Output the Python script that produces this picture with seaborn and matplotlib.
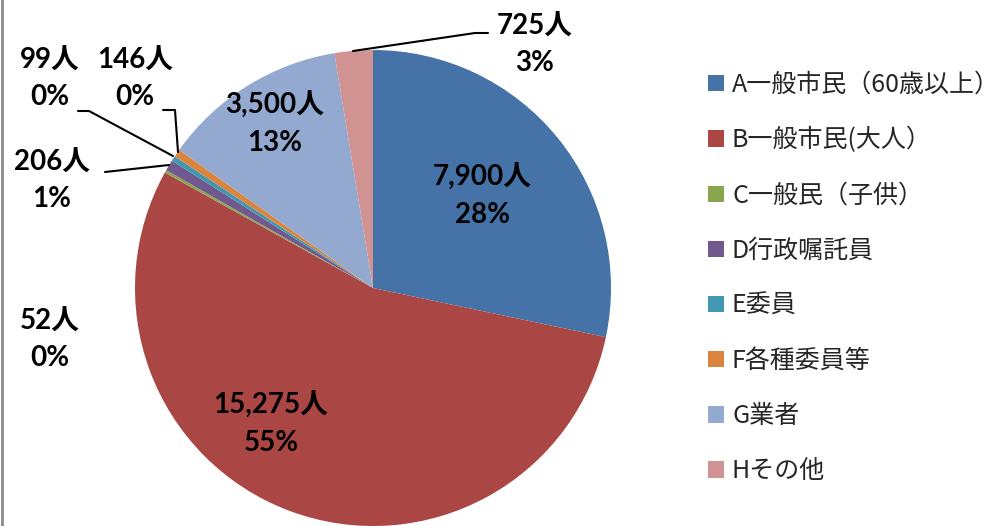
import matplotlib
matplotlib.use("Agg")
import matplotlib.pyplot as plt
import seaborn as sns
from matplotlib.patches import Patch
from matplotlib.lines import Line2D

sns.set_theme(style="white")
plt.rcParams['font.family'] = ['Noto Sans CJK JP', 'DejaVu Sans']

categories = ["A一般市民（60歳以上）", "B一般市民(大人）", "C一般民（子供）", "D行政嘱託員",
              "E委員", "F各種委員等", "G業者", "Hその他"]
values = [7900, 15275, 52, 206, 99, 146, 3500, 725]
percent_labels = ["28%", "55%", "0%", "1%", "0%", "0%", "13%", "3%"]
colors = ["#4572A7", "#AA4643", "#89A54E", "#71588F", "#4198AF", "#DB843D", "#93A9CF", "#D19392"]

W, H = 1007, 526
fig = plt.figure(figsize=(W / 100, H / 100), dpi=100)
CX, CY, R = 373, 288, 238
ax = fig.add_axes([(CX - R) / W, (H - CY - R) / H, 2 * R / W, 2 * R / H])
ax.pie(values, colors=colors, startangle=90, counterclock=False, radius=1,
       wedgeprops=dict(linewidth=0))
ax.set_xlim(-1, 1)
ax.set_ylim(-1, 1)
ax.set_aspect('equal')
ax.axis('off')


def p2d(px, py):
    return (px - CX) / R, (CY - py) / R


# label centres (pixel positions in the reference)
label_pos = [(482, 196), (271, 424), (50, 340), (52, 181), (50, 79), (135, 79), (275, 124), (535, 45)]
for v, pct, (px, py) in zip(values, percent_labels, label_pos):
    x, y = p2d(px, py)
    ax.text(x, y, f"{v:,}人\n{pct}", ha='center', va='center', fontsize=20,
            fontweight='bold', color='black', linespacing=1.5,
            family=['Lato', 'Noto Sans CJK JP'])

leaders = [
    [(353, 51), (475, 33), (488, 33)],       # H
    [(78, 111), (89, 111), (173, 156)],      # E
    [(163, 110), (175, 110), (178, 152)],    # F
    [(105, 172), (169, 165)],                # D
]
for pts in leaders:
    xs, ys = zip(*[p2d(px, py) for px, py in pts])
    ax.plot(xs, ys, color='black', linewidth=1.5, clip_on=False)

handles = [Patch(facecolor=c, edgecolor='none') for c in colors]
leg = fig.legend(handles, categories, loc='upper left', bbox_to_anchor=(698 / W, 1 - 62 / H),
                 frameon=False, fontsize=18, handlelength=0.64, handleheight=0.64,
                 handletextpad=0.32, labelspacing=1.165, borderaxespad=0)

fig.add_artist(Line2D([2 / W, 2 / W], [0, 1], transform=fig.transFigure, color='#8c8c8c', linewidth=2))

fig.savefig("out.png", dpi=100, facecolor='white')
